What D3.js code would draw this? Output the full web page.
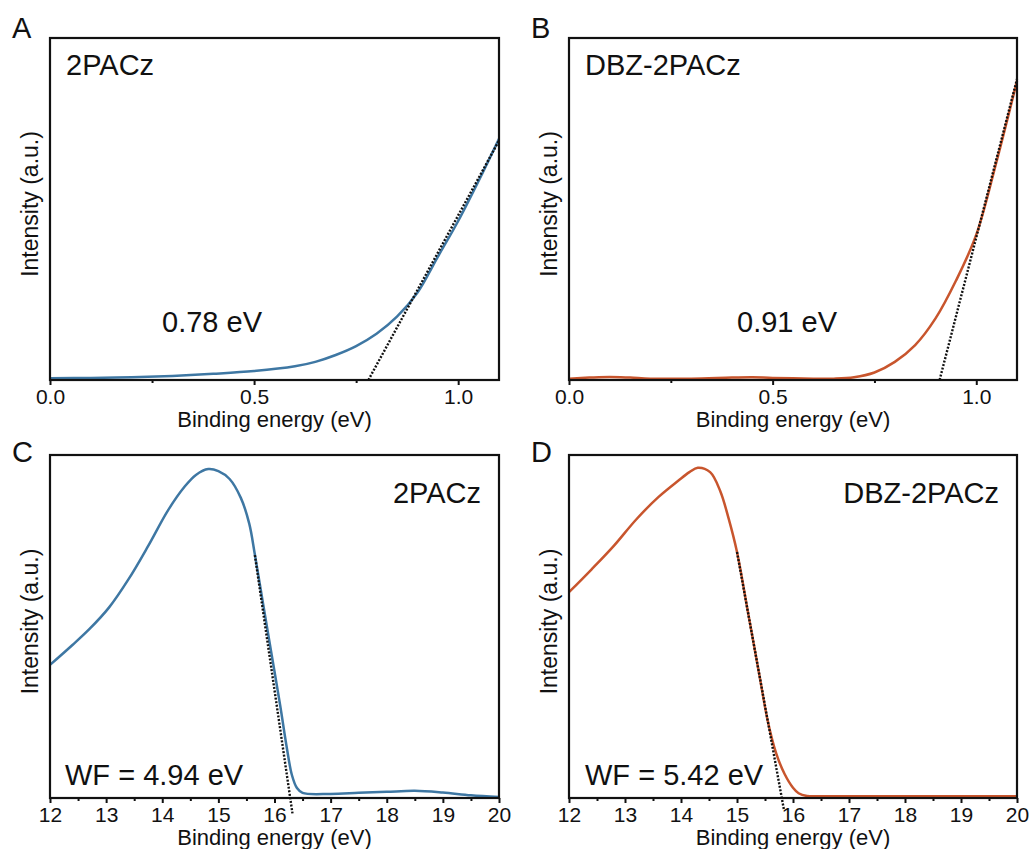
<!DOCTYPE html>
<html>
<head>
<meta charset="utf-8">
<script src="https://cdn.jsdelivr.net/npm/d3@7"></script>
<style>
  body { margin: 0; background: #fff; }
  text { font-family: Arial, "Liberation Sans", sans-serif; fill: #111; }
</style>
</head>
<body>
<div id="chart"></div>
<script>
// ---- data ----
// A: 2PACz valence band edge
let aEnergy = [0, 0.1, 0.2, 0.3, 0.4, 0.5, 0.6, 0.65, 0.7, 0.75, 0.8, 0.85, 0.9, 0.95, 1.0, 1.05, 1.1];
let aIntensity = [0.005, 0.006, 0.008, 0.012, 0.018, 0.026, 0.040, 0.053, 0.073, 0.099, 0.135, 0.185, 0.255, 0.36, 0.465, 0.582, 0.705];
let aFitX = [0.78, 1.1];
let aFitY = [0, 0.70];

// B: DBZ-2PACz valence band edge
let bEnergy = [0, 0.05, 0.1, 0.15, 0.2, 0.3, 0.4, 0.45, 0.5, 0.6, 0.65, 0.7, 0.75, 0.8, 0.85, 0.9, 0.95, 1.0, 1.05, 1.1];
let bIntensity = [0.004, 0.007, 0.009, 0.007, 0.004, 0.004, 0.007, 0.008, 0.006, 0.004, 0.004, 0.008, 0.022, 0.053, 0.102, 0.18, 0.29, 0.425, 0.64, 0.875];
let bFitX = [0.91, 1.1];
let bFitY = [0, 0.88];

// C: 2PACz secondary electron cut-off
let cEnergy = [12, 12.4, 12.7, 13.05, 13.4, 13.75, 14.1, 14.4, 14.6, 14.82, 15.0, 15.2, 15.4, 15.55, 15.65, 15.8, 15.95, 16.1, 16.22, 16.31, 16.4, 16.5, 17, 17.5, 18, 18.5, 19, 19.5, 20];
let cIntensity = [0.388, 0.446, 0.492, 0.555, 0.638, 0.735, 0.838, 0.908, 0.942, 0.959, 0.953, 0.93, 0.875, 0.80, 0.71, 0.563, 0.417, 0.271, 0.146, 0.067, 0.029, 0.015, 0.012, 0.015, 0.018, 0.021, 0.016, 0.008, 0.003];
let cFitX = [15.65, 16.32];
let cFitY = [0.708, -0.045];

// D: DBZ-2PACz secondary electron cut-off
let dEnergy = [12, 12.4, 12.8, 13.2, 13.6, 13.95, 14.15, 14.3, 14.52, 14.7, 14.85, 15.0, 15.2, 15.4, 15.55, 15.7, 15.85, 16.0, 16.1, 16.25, 16.5, 17, 18, 19, 20];
let dIntensity = [0.600, 0.666, 0.735, 0.812, 0.878, 0.925, 0.950, 0.963, 0.950, 0.895, 0.815, 0.717, 0.538, 0.358, 0.224, 0.13, 0.07, 0.03, 0.014, 0.006, 0.005, 0.005, 0.005, 0.005, 0.005];
let dFitX = [15.0, 15.84];
let dFitY = [0.717, -0.036];

// tick labels
let vbTicks = [0, 0.5, 1.0];
let vbMinor = [0.25, 0.75];
let wfTicks = [12, 13, 14, 15, 16, 17, 18, 19, 20];
let wfMinor = [12.5, 13.5, 14.5, 15.5, 16.5, 17.5, 18.5, 19.5];

let blue = "#3e77a3";
let orange = "#c8552d";

// ---- drawing ----
let svg = d3.select("#chart").append("svg")
    .attr("width", 1031)
    .attr("height", 849);

svg.append("rect").attr("width", 1031).attr("height", 849).attr("fill", "#fff");

// one panel per spectrum
let panels = [
    {letter: "A", x0: 50, y0: 38, w: 449, h: 342, domain: [0, 1.1], ticks: vbTicks, minor: vbMinor, fmt: d3.format(".1f"),
     ex: aEnergy, ey: aIntensity, fx: aFitX, fy: aFitY, color: blue,
     name: "2PACz", nameRight: false, note: "0.78 eV", noteX: 162, noteY: 332},
    {letter: "B", x0: 569, y0: 38, w: 448, h: 342, domain: [0, 1.1], ticks: vbTicks, minor: vbMinor, fmt: d3.format(".1f"),
     ex: bEnergy, ey: bIntensity, fx: bFitX, fy: bFitY, color: orange,
     name: "DBZ-2PACz", nameRight: false, note: "0.91 eV", noteX: 737, noteY: 332},
    {letter: "C", x0: 50, y0: 455, w: 449, h: 343, domain: [12, 20], ticks: wfTicks, minor: wfMinor, fmt: d3.format("d"),
     ex: cEnergy, ey: cIntensity, fx: cFitX, fy: cFitY, color: blue,
     name: "2PACz", nameRight: true, note: "WF = 4.94 eV", noteX: 65, noteY: 785},
    {letter: "D", x0: 569, y0: 455, w: 448, h: 343, domain: [12, 20], ticks: wfTicks, minor: wfMinor, fmt: d3.format("d"),
     ex: dEnergy, ey: dIntensity, fx: dFitX, fy: dFitY, color: orange,
     name: "DBZ-2PACz", nameRight: true, note: "WF = 5.42 eV", noteX: 585, noteY: 785}
];

panels.forEach(p => {
    let g = svg.append("g").attr("transform", `translate(${p.x0}, ${p.y0})`);

    let x = d3.scaleLinear().domain(p.domain).range([0, p.w]);
    let y = d3.scaleLinear().domain([0, 1]).range([p.h, 0]);

    // major ticks + labels
    let xAxis = g.append("g")
        .attr("transform", `translate(0, ${p.h})`)
        .call(d3.axisBottom(x).tickValues(p.ticks).tickFormat(p.fmt).tickSize(5).tickSizeOuter(0).tickPadding(4));
    xAxis.select(".domain").remove();
    xAxis.selectAll(".tick line").attr("stroke", "#111").attr("stroke-width", 2);
    xAxis.selectAll(".tick text").style("font-size", "21px").attr("fill", "#111");

    // minor ticks
    g.append("g")
        .attr("transform", `translate(0, ${p.h})`)
        .call(d3.axisBottom(x).tickValues(p.minor).tickFormat("").tickSize(3).tickSizeOuter(0))
        .call(a => a.select(".domain").remove())
        .selectAll(".tick line").attr("stroke", "#111").attr("stroke-width", 2);

    // spectrum
    let line = d3.line()
        .x((d, i) => x(p.ex[i]))
        .y(d => y(d))
        .curve(d3.curveCatmullRom.alpha(0.5));
    g.append("path")
        .datum(p.ey)
        .attr("d", line)
        .attr("fill", "none")
        .attr("stroke", p.color)
        .attr("stroke-width", 2.5);

    // linear extrapolation (dotted)
    let fit = d3.line().x((d, i) => x(p.fx[i])).y(d => y(d));
    g.append("path")
        .datum(p.fy)
        .attr("d", fit)
        .attr("fill", "none")
        .attr("stroke", "#111")
        .attr("stroke-width", 2.4)
        .attr("stroke-dasharray", "2,1.6");

    // frame
    g.append("rect")
        .attr("width", p.w)
        .attr("height", p.h)
        .attr("fill", "none")
        .attr("stroke", "#111")
        .attr("stroke-width", 2.2);

    // axis titles
    g.append("text")
        .attr("x", p.w / 2)
        .attr("y", p.h + 47)
        .attr("text-anchor", "middle")
        .style("font-size", "22px")
        .text("Binding energy (eV)");

    g.append("text")
        .attr("transform", `translate(-12, ${p.h / 2 - 5}) rotate(-90)`)
        .attr("text-anchor", "middle")
        .style("font-size", "23px")
        .text("Intensity (a.u.)");

    // sample name
    g.append("text")
        .attr("x", p.nameRight ? p.w - 18 : 16)
        .attr("y", p.nameRight ? 48 : 37)
        .attr("text-anchor", p.nameRight ? "end" : "start")
        .style("font-size", "29px")
        .text(p.name);

    // annotation
    svg.append("text")
        .attr("x", p.noteX)
        .attr("y", p.noteY)
        .style("font-size", "29px")
        .text(p.note);

    // panel letter
    svg.append("text")
        .attr("x", p.x0 - 38)
        .attr("y", p.y0 + (p.letter === "A" || p.letter === "B" ? 0 : 7))
        .style("font-size", "29px")
        .text(p.letter);
});
</script>
</body>
</html>
